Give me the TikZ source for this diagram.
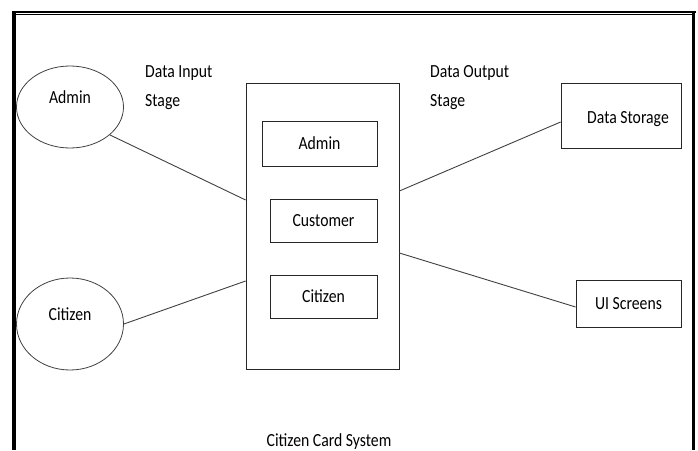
\documentclass[tikz,border=0pt]{standalone}
\usepackage{fontspec}
\setmainfont{Carlito}[FakeStretch=0.85]
\usetikzlibrary{positioning,shapes,calc}
\tikzset{every node/.style={font=\fontsize{18.5}{29}\selectfont,inner sep=0pt}}
\tikzset{actor/.style={ellipse,draw=black!75,line width=0.8pt,minimum width=107pt}}
\tikzset{procbox/.style={rectangle,draw=black!85,line width=0.8pt}}
\tikzset{conn/.style={draw=black!75,line width=0.9pt}}
\tikzset{framerule/.style={black,line width=#1}}
\tikzset{stagetext/.style={align=left,anchor=north west}}

\begin{document}
\begin{tikzpicture}[x=1pt,y=-1pt]
    \useasboundingbox (0,0) rectangle (698,450);
    % page frame, open at the bottom
    \draw[framerule=4pt] (14,11) -- (14,450);
    \draw[framerule=3.5pt] (693.5,11) -- (693.5,450);
    \draw[framerule=2pt] (12,11.8) -- (695.5,11.8);
    \draw[framerule=1.3pt] (16,14.8) -- (692,14.8);

    % actors on the input side
    \node[actor,minimum height=82pt,label={[yshift=10pt]center:Admin}] (admin) at (70,107) {};
    \node[actor,minimum height=92pt,label={[yshift=10pt]center:Citizen}] (citizen) at (70,324) {};
    \node[stagetext] (instage) at (145,65) {Data Input\\Stage};

    % the system with its modules
    \node[procbox,minimum width=153pt,minimum height=286pt] (sys) at (322.5,226) {};
    \node[procbox,minimum width=115pt,minimum height=45pt] (madmin) at (319.5,143.5) {Admin};
    \node[procbox,minimum width=107pt,minimum height=43pt] (mcustomer) at (323.5,220.5) {Customer};
    \node[procbox,minimum width=107pt,minimum height=43pt] (mcitizen) at (323.5,296.5) {Citizen};
    \node[anchor=base] (systitle) at (329,446) {Citizen Card System};

    % outputs
    \node[stagetext] (outstage) at (430,65) {Data Output\\Stage};
    \node[procbox,minimum width=120pt,minimum height=65pt,
          label={[xshift=7pt,yshift=-4pt]center:Data Storage}] (storage) at (621,115.5) {};
    \node[procbox,minimum width=105pt,minimum height=47pt] (screens) at (628.5,303.5) {UI Screens};

    % connectors
    \draw[conn] (admin.-35) -- ([yshift=26pt]sys.west);
    \draw[conn] (citizen.east) -- ([yshift=-55pt]sys.west);
    \draw[conn] ([yshift=35pt]sys.east) -- ([yshift=-6.5pt]storage.west);
    \draw[conn] ([yshift=-27pt]sys.east) -- ([yshift=-3.5pt]screens.west);
\end{tikzpicture}
\end{document}
